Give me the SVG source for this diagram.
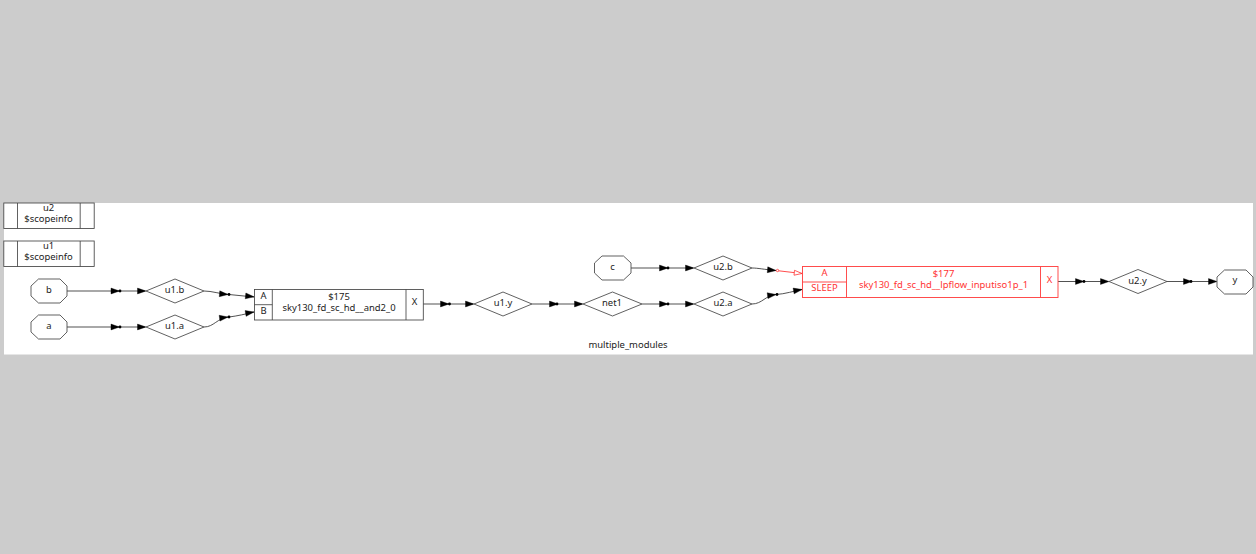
<svg xmlns="http://www.w3.org/2000/svg" width="1256" height="554" viewBox="0 0 1256 554">
<style>
text{font-family:"Noto Sans","Open Sans","DejaVu Sans",sans-serif;font-size:9.45px;fill:#222;text-anchor:middle}
.s{fill:#fff;stroke:#444;stroke-width:.85}
.d{fill:none;stroke:#444;stroke-width:.85}
.e{fill:none;stroke:#333;stroke-width:.85}
.r{fill:none;stroke:#f44;stroke-width:.95}
text.t{fill:#f33}
.h{fill:#000;stroke:#000;stroke-width:.4}
.dot{fill:#000}
</style>
<defs>
<g id="hd"><path class="h" d="M-8.500-2.900L0 0L-8.500 2.900Z"/></g>
</defs>
<rect width="1256" height="554" fill="#ccc"/>
<rect x="4" y="203" width="1249" height="151.500" fill="#fff"/>
<text x="628" y="347.500">multiple_modules</text>
<g id="scope_u2"><rect class="s" x="3.800" y="203" width="90.400" height="25.500"/><path class="d" d="M17.500 203V228.500M80.200 203V228.500"/><text x="48.500" y="211">u2</text><text x="48.500" y="221.700">$scopeinfo</text></g>
<g id="scope_u1"><rect class="s" x="3.800" y="241" width="90.400" height="25.500"/><path class="d" d="M17.500 241V266.500M80.200 241V266.500"/><text x="48.500" y="249">u1</text><text x="48.500" y="259.700">$scopeinfo</text></g>
<g id="connectors">
<path class="e" d="M67 291H145"/><use href="#hd" x="119.500" y="291"/><circle class="dot" cx="120" cy="291" r="1.400"/><use href="#hd" x="146" y="291"/>
<path class="e" d="M67 327H145"/><use href="#hd" x="119.500" y="327"/><circle class="dot" cx="120" cy="327" r="1.400"/><use href="#hd" x="146" y="327"/>
<path class="e" d="M204 291C212 291 220 294 229 294.500L254 297"/><use href="#hd" x="228" y="294.500" transform="rotate(5 228 294.500)"/><circle class="dot" cx="229" cy="294.500" r="1.400"/><use href="#hd" x="254" y="296.800" transform="rotate(6 254 296.800)"/>
<path class="e" d="M204 327C214 327 217 318 229 317C237 316 246 314 254 312"/><use href="#hd" x="228" y="317" transform="rotate(-8 228 317)"/><circle class="dot" cx="229" cy="317" r="1.400"/><use href="#hd" x="254" y="312" transform="rotate(-10 254 312)"/>
<path class="e" d="M423 304H473"/><use href="#hd" x="449" y="304"/><circle class="dot" cx="449.500" cy="304" r="1.400"/><use href="#hd" x="474" y="304"/>
<path class="e" d="M532 304H582"/><use href="#hd" x="558" y="304"/><circle class="dot" cx="557" cy="304" r="1.400"/><use href="#hd" x="583" y="304"/>
<path class="e" d="M642 304H693"/><use href="#hd" x="668" y="304"/><circle class="dot" cx="668" cy="304" r="1.400"/><use href="#hd" x="694" y="304"/>
<path class="e" d="M631 268H693"/><use href="#hd" x="668" y="268"/><circle class="dot" cx="668" cy="268" r="1.400"/><use href="#hd" x="694" y="268"/>
<path class="e" d="M752 268C758 268 764 269.500 776 270.500"/><use href="#hd" x="776" y="270.500" transform="rotate(5 776 270.500)"/>
<path class="r" d="M776 270.500L802 273.500"/><circle cx="777.500" cy="270.500" r="1.200" fill="#fff" stroke="#f33" stroke-width=".8"/>
<path d="M794.500 270.300L802 273.500L794 275.200Z" fill="#fff" stroke="#f33" stroke-width=".8"/>
<path class="e" d="M752 304C762 304 766 295 776 294.500C785 294 794 291 802 289.500"/><use href="#hd" x="776" y="294.500" transform="rotate(-8 776 294.500)"/><circle class="dot" cx="777" cy="294.500" r="1.400"/><use href="#hd" x="802" y="289.500" transform="rotate(-10 802 289.500)"/>
<path class="e" d="M1058 281.500H1108"/><use href="#hd" x="1084" y="281.500"/><circle class="dot" cx="1084" cy="281.500" r="1.400"/><use href="#hd" x="1109" y="281.500"/>
<path class="e" d="M1167 281.500H1216"/><use href="#hd" x="1192" y="281.500"/><circle class="dot" cx="1191" cy="281.500" r="1.400"/><use href="#hd" x="1217" y="281.500"/>
</g>
<g id="b"><path class="s" d="M31 286L38.500 279H60L67 286V296L60 303H38.500L31 296Z"/><text x="49" y="292.500">b</text></g>
<g id="a"><path class="s" d="M31 322L38.500 315H60L67 322V332L60 339H38.500L31 332Z"/><text x="49" y="328.500">a</text></g>
<g id="c"><path class="s" d="M594.500 263L602 256H623.500L631 263V273L623.500 280H602L594.500 273Z"/><text x="612.500" y="270">c</text></g>
<g id="y"><path class="s" d="M1217 277L1224.500 270H1246L1253 277V287L1246 294H1224.500L1217 287Z"/><text x="1235" y="283">y</text></g>
<g id="u1_b"><path class="s" d="M146 291L175 279L204 291L175 303Z"/><text x="174.500" y="293">u1.b</text></g>
<g id="u1_a"><path class="s" d="M146 327L175 315L204 327L175 339Z"/><text x="174.500" y="329">u1.a</text></g>
<g id="u1_y"><path class="s" d="M474 304L503 292L532 304L503 316Z"/><text x="503" y="306">u1.y</text></g>
<g id="net1"><path class="s" d="M583 304L612.500 292L642 304L612.500 316Z"/><text x="612" y="306">net1</text></g>
<g id="u2_a"><path class="s" d="M694 304L723 292L752 304L723 316Z"/><text x="723" y="306">u2.a</text></g>
<g id="u2_b"><path class="s" d="M694 268L723 256L752 268L723 280Z"/><text x="723" y="270">u2.b</text></g>
<g id="u2_y"><path class="s" d="M1109 281.500L1138 269.500L1167 281.500L1138 293.500Z"/><text x="1137.500" y="283.500">u2.y</text></g>
<g id="cell175"><rect class="s" x="254.500" y="289.500" width="168.800" height="30.500"/><path class="d" d="M272.300 289.500V320M406 289.500V320M254.500 304.700H272.300"/><text x="263.500" y="298.500">A</text><text x="263.500" y="313.500">B</text><text x="339" y="300">$175</text><text x="339" y="310.700">sky130_fd_sc_hd__and2_0</text><text x="414.500" y="305">X</text></g>
<g id="cell177"><rect class="r" x="802.500" y="266.500" width="255.500" height="31" fill="#fff"/><path class="r" d="M846.500 266.500V297.500M1040.500 266.500V297.500M802.500 282H846.500"/><text class="t" x="824.500" y="275.500">A</text><text class="t" x="824.500" y="290.500">SLEEP</text><text class="t" x="943.500" y="277">$177</text><text class="t" x="943.500" y="287.700">sky130_fd_sc_hd__lpflow_inputiso1p_1</text><text class="t" x="1049.500" y="282.500">X</text></g>
</svg>
